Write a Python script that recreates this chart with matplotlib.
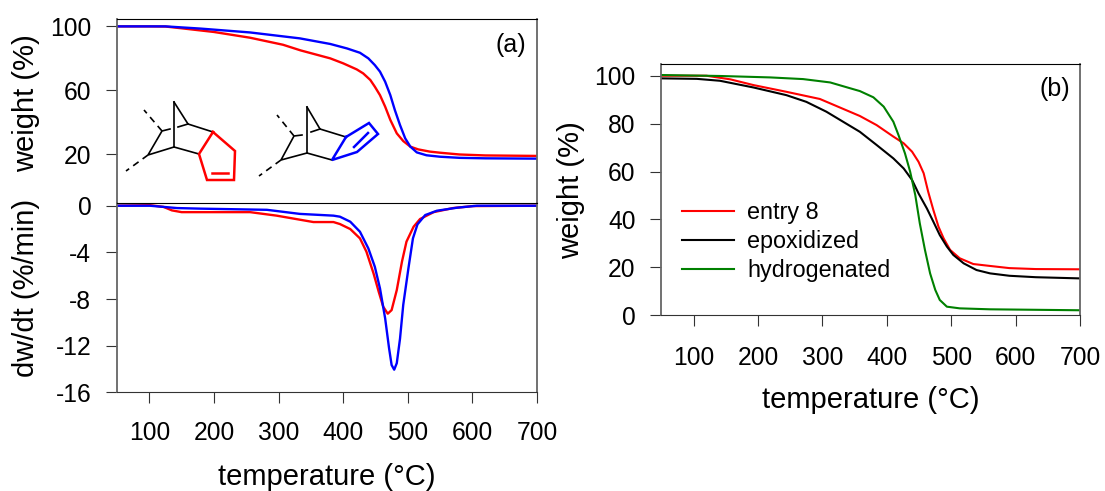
import matplotlib
matplotlib.use("Agg")
import matplotlib.pyplot as plt
from matplotlib.lines import Line2D

W, H = 1105, 491

# panel (a), weight
a_red_t = [50, 100, 125, 150, 200, 256, 307, 334, 380, 400, 421, 431, 442, 449, 457, 465, 473, 483, 493, 504, 516, 534, 550, 580, 620, 700]
a_red_w = [100, 100, 99.9, 98.8, 96.5, 92.9, 88.5, 85, 80, 76.9, 73.1, 70.6, 66.5, 62.3, 57, 49.8, 41.5, 33.1, 28.3, 24.8, 23.1, 21.7, 21, 19.9, 19.3, 19]
a_blue_t = [50, 125, 180, 256, 333, 380, 406, 426, 439, 449, 457, 465, 473, 480, 488, 496, 504, 514, 529, 550, 580, 620, 700]
a_blue_w = [100, 100, 98.6, 96.2, 92.5, 89, 86.2, 83.5, 80, 75.8, 71.7, 65.4, 57, 47.7, 38.3, 30, 24.8, 21.2, 19.4, 18.5, 17.8, 17.5, 17.3]

# panel (a), derivative
d_red_t = [50, 101, 122, 135, 150, 205, 256, 297, 354, 385, 395, 411, 426, 436, 447, 455, 462, 469, 475, 483, 491, 498, 509, 519, 540, 570, 601, 700]
d_red_v = [0, 0.05, -0.1, -0.4, -0.55, -0.55, -0.55, -0.85, -1.4, -1.4, -1.57, -2, -2.8, -3.94, -5.8, -7.37, -8.66, -9.26, -8.95, -7.23, -4.8, -3.08, -1.8, -1.14, -0.55, -0.2, -0.03, 0]
d_blue_t = [50, 101, 143, 179, 282, 333, 385, 395, 411, 426, 439, 449, 457, 465, 471, 475, 479, 483, 488, 493, 501, 508, 515, 527, 545, 576, 607, 700]
d_blue_v = [0, 0, -0.2, -0.25, -0.35, -0.7, -0.85, -0.94, -1.37, -2.23, -3.66, -5.23, -7.09, -9.66, -12.2, -13.66, -14.06, -13.5, -11.4, -8.5, -5.37, -2.8, -1.6, -0.8, -0.43, -0.17, 0, 0]

# panel (b), weight
b_red_t = [50, 120, 157, 193, 244, 296, 358, 384, 410, 426, 439, 449, 457, 464, 472, 480, 488, 498, 513, 534, 560, 590, 631, 700]
b_red_w = [100, 100, 98.5, 96.1, 93.3, 90.3, 83.2, 79.4, 74.6, 71.8, 68.3, 64.1, 59.3, 51.6, 44, 37, 32.1, 27.3, 23.8, 21.4, 20.6, 19.7, 19.3, 19.2]
b_black_t = [50, 105, 141, 193, 244, 275, 306, 358, 384, 410, 426, 439, 449, 462, 472, 482, 493, 503, 519, 539, 560, 590, 631, 700]
b_black_w = [98.9, 98.7, 97.9, 95.1, 91.9, 89.1, 85, 76.6, 71.1, 65.5, 61.3, 56.5, 50.9, 44.6, 39.1, 33.5, 28.7, 25.2, 21.7, 18.9, 17.5, 16.5, 15.9, 15.4]
b_green_t = [50, 141, 219, 270, 312, 340, 358, 379, 395, 410, 418, 428, 436, 444, 451, 459, 467, 475, 482, 493, 513, 560, 700]
b_green_w = [100.3, 99.9, 99.3, 98.6, 97.2, 95, 93.6, 91, 87.1, 80.8, 75.2, 67.6, 60, 50.2, 38.4, 27.3, 17.5, 10.6, 6.4, 3.6, 2.9, 2.5, 2.1]
b_labels = ["entry 8", "epoxidized", "hydrogenated"]

x_ticks = [100, 200, 300, 400, 500, 600, 700]

# molecule sketches, in pixels of the picture
ring_left = [(174, 102), (174, 147), (199, 154)]
ring_left2 = [(174, 102), (188, 124), (213, 132)]
arm_left = [(174, 147), (148, 155), (162, 131), (170, 129)]
arm_left2 = [(178, 127), (188, 124)]
dash_left = [[(162, 131), (144, 110)], [(148, 155), (126, 171)]]
red_ring = [(213, 132), (235, 151), (234, 180), (207, 180), (199, 154), (213, 132)]
red_bond = [(212, 173), (228, 173)]
ring_right = [(307, 107), (307, 153), (332, 160)]
ring_right2 = [(307, 107), (320, 129), (346, 137)]
arm_right = [(307, 153), (281, 160), (294, 136), (302, 135)]
arm_right2 = [(311, 132), (320, 129)]
dash_right = [[(294, 136), (277, 115)], [(281, 160), (259, 176)]]
blue_ring = [(346, 137), (369, 123), (378, 134), (357, 152), (332, 160), (346, 137)]
blue_bond = [(354, 147), (368, 133)]

plt.rcParams["font.family"] = ["Liberation Sans", "DejaVu Sans"]
plt.rcParams["axes.unicode_minus"] = False


def px_axes(fig, left, top, right, bottom):
    return fig.add_axes([left / W, 1 - bottom / H, (right - left) / W, (bottom - top) / H])


def style_axes(ax, x_pad=13):
    for side in ["left", "right"]:
        ax.spines[side].set_color("#666666")
        ax.spines[side].set_linewidth(1.3)
    ax.spines["top"].set_linewidth(0.8)
    ax.spines["bottom"].set_linewidth(0.8)
    ax.spines["bottom"].set_color("#333333")
    ax.tick_params(length=8, width=0.8, color="#333333", labelsize=17.7)
    ax.tick_params(axis="y", pad=10.5)
    ax.tick_params(axis="x", pad=x_pad)
    ax.set_xlim(50, 700)


def sketch(fig, pts, color="black", lw=1.2, ls="-"):
    xs = [p[0] / W for p in pts]
    ys = [1 - p[1] / H for p in pts]
    fig.add_artist(Line2D(xs, ys, color=color, lw=lw, ls=ls, solid_joinstyle="miter"))


fig = plt.figure(figsize=(W / 100, H / 100), dpi=100)

ax1 = px_axes(fig, 117, 18.7, 537, 202.7)
ax1.plot(a_red_t, a_red_w, color="#ff0000", lw=1.7)
ax1.plot(a_blue_t, a_blue_w, color="#0000ff", lw=1.7)
ax1.set_ylim(-10.25, 104.8)
ax1.set_yticks([100, 60, 20])
style_axes(ax1)
ax1.spines["bottom"].set_visible(False)
ax1.tick_params(axis="x", bottom=False, labelbottom=False)
ax1.text(0.975, 0.855, "(a)", transform=ax1.transAxes, ha="right", va="center", fontsize=18)

ax2 = px_axes(fig, 117, 202.7, 537, 392.3)
ax2.plot(d_red_t, d_red_v, color="#ff0000", lw=1.7)
ax2.plot(d_blue_t, d_blue_v, color="#0000ff", lw=1.7)
ax2.set_ylim(-16, 0.26)
ax2.set_yticks([0, -4, -8, -12, -16])
ax2.set_xticks(x_ticks)
style_axes(ax2)

ax3 = px_axes(fig, 661.3, 64, 1080.3, 315.3)
ax3.plot(b_red_t, b_red_w, color="#ff0000", lw=1.5, label=b_labels[0])
ax3.plot(b_black_t, b_black_w, color="black", lw=1.5, label=b_labels[1])
ax3.plot(b_green_t, b_green_w, color="#008000", lw=1.5, label=b_labels[2])
ax3.set_ylim(0, 104.9)
ax3.set_yticks([0, 20, 40, 60, 80, 100])
ax3.set_xticks(x_ticks)
style_axes(ax3, x_pad=14)
ax3.text(0.975, 0.9, "(b)", transform=ax3.transAxes, ha="right", va="center", fontsize=18)
ax3.legend(loc="lower left", bbox_to_anchor=(0.05, 0.133), frameon=False, fontsize=16.8,
           handlelength=2.2, handletextpad=0.58, labelspacing=0.25, borderpad=0, borderaxespad=0)

fig.text(327 / W, 1 - 477 / H, "temperature (°C)", ha="center", va="center", fontsize=21)
fig.text(871 / W, 1 - 400 / H, "temperature (°C)", ha="center", va="center", fontsize=21)
fig.text(26 / W, 1 - 103 / H, "weight (%)", rotation=90, ha="center", va="center", fontsize=21)
fig.text(26 / W, 1 - 288 / H, "dw/dt (%/min)", rotation=90, ha="center", va="center", fontsize=21)
fig.text(571 / W, 1 - 190 / H, "weight (%)", rotation=90, ha="center", va="center", fontsize=21)

for pts in [ring_left, ring_left2, arm_left, arm_left2, ring_right, ring_right2, arm_right, arm_right2]:
    sketch(fig, pts)
for pts in dash_left + dash_right:
    sketch(fig, pts, ls=(0, (4, 3)))
sketch(fig, red_ring, color="#ff0000", lw=1.8)
sketch(fig, red_bond, color="#ff0000", lw=1.8)
sketch(fig, blue_ring, color="#0000ff", lw=1.8)
sketch(fig, blue_bond, color="#0000ff", lw=1.8)

fig.savefig("out.png", dpi=100)
plt.close(fig)
